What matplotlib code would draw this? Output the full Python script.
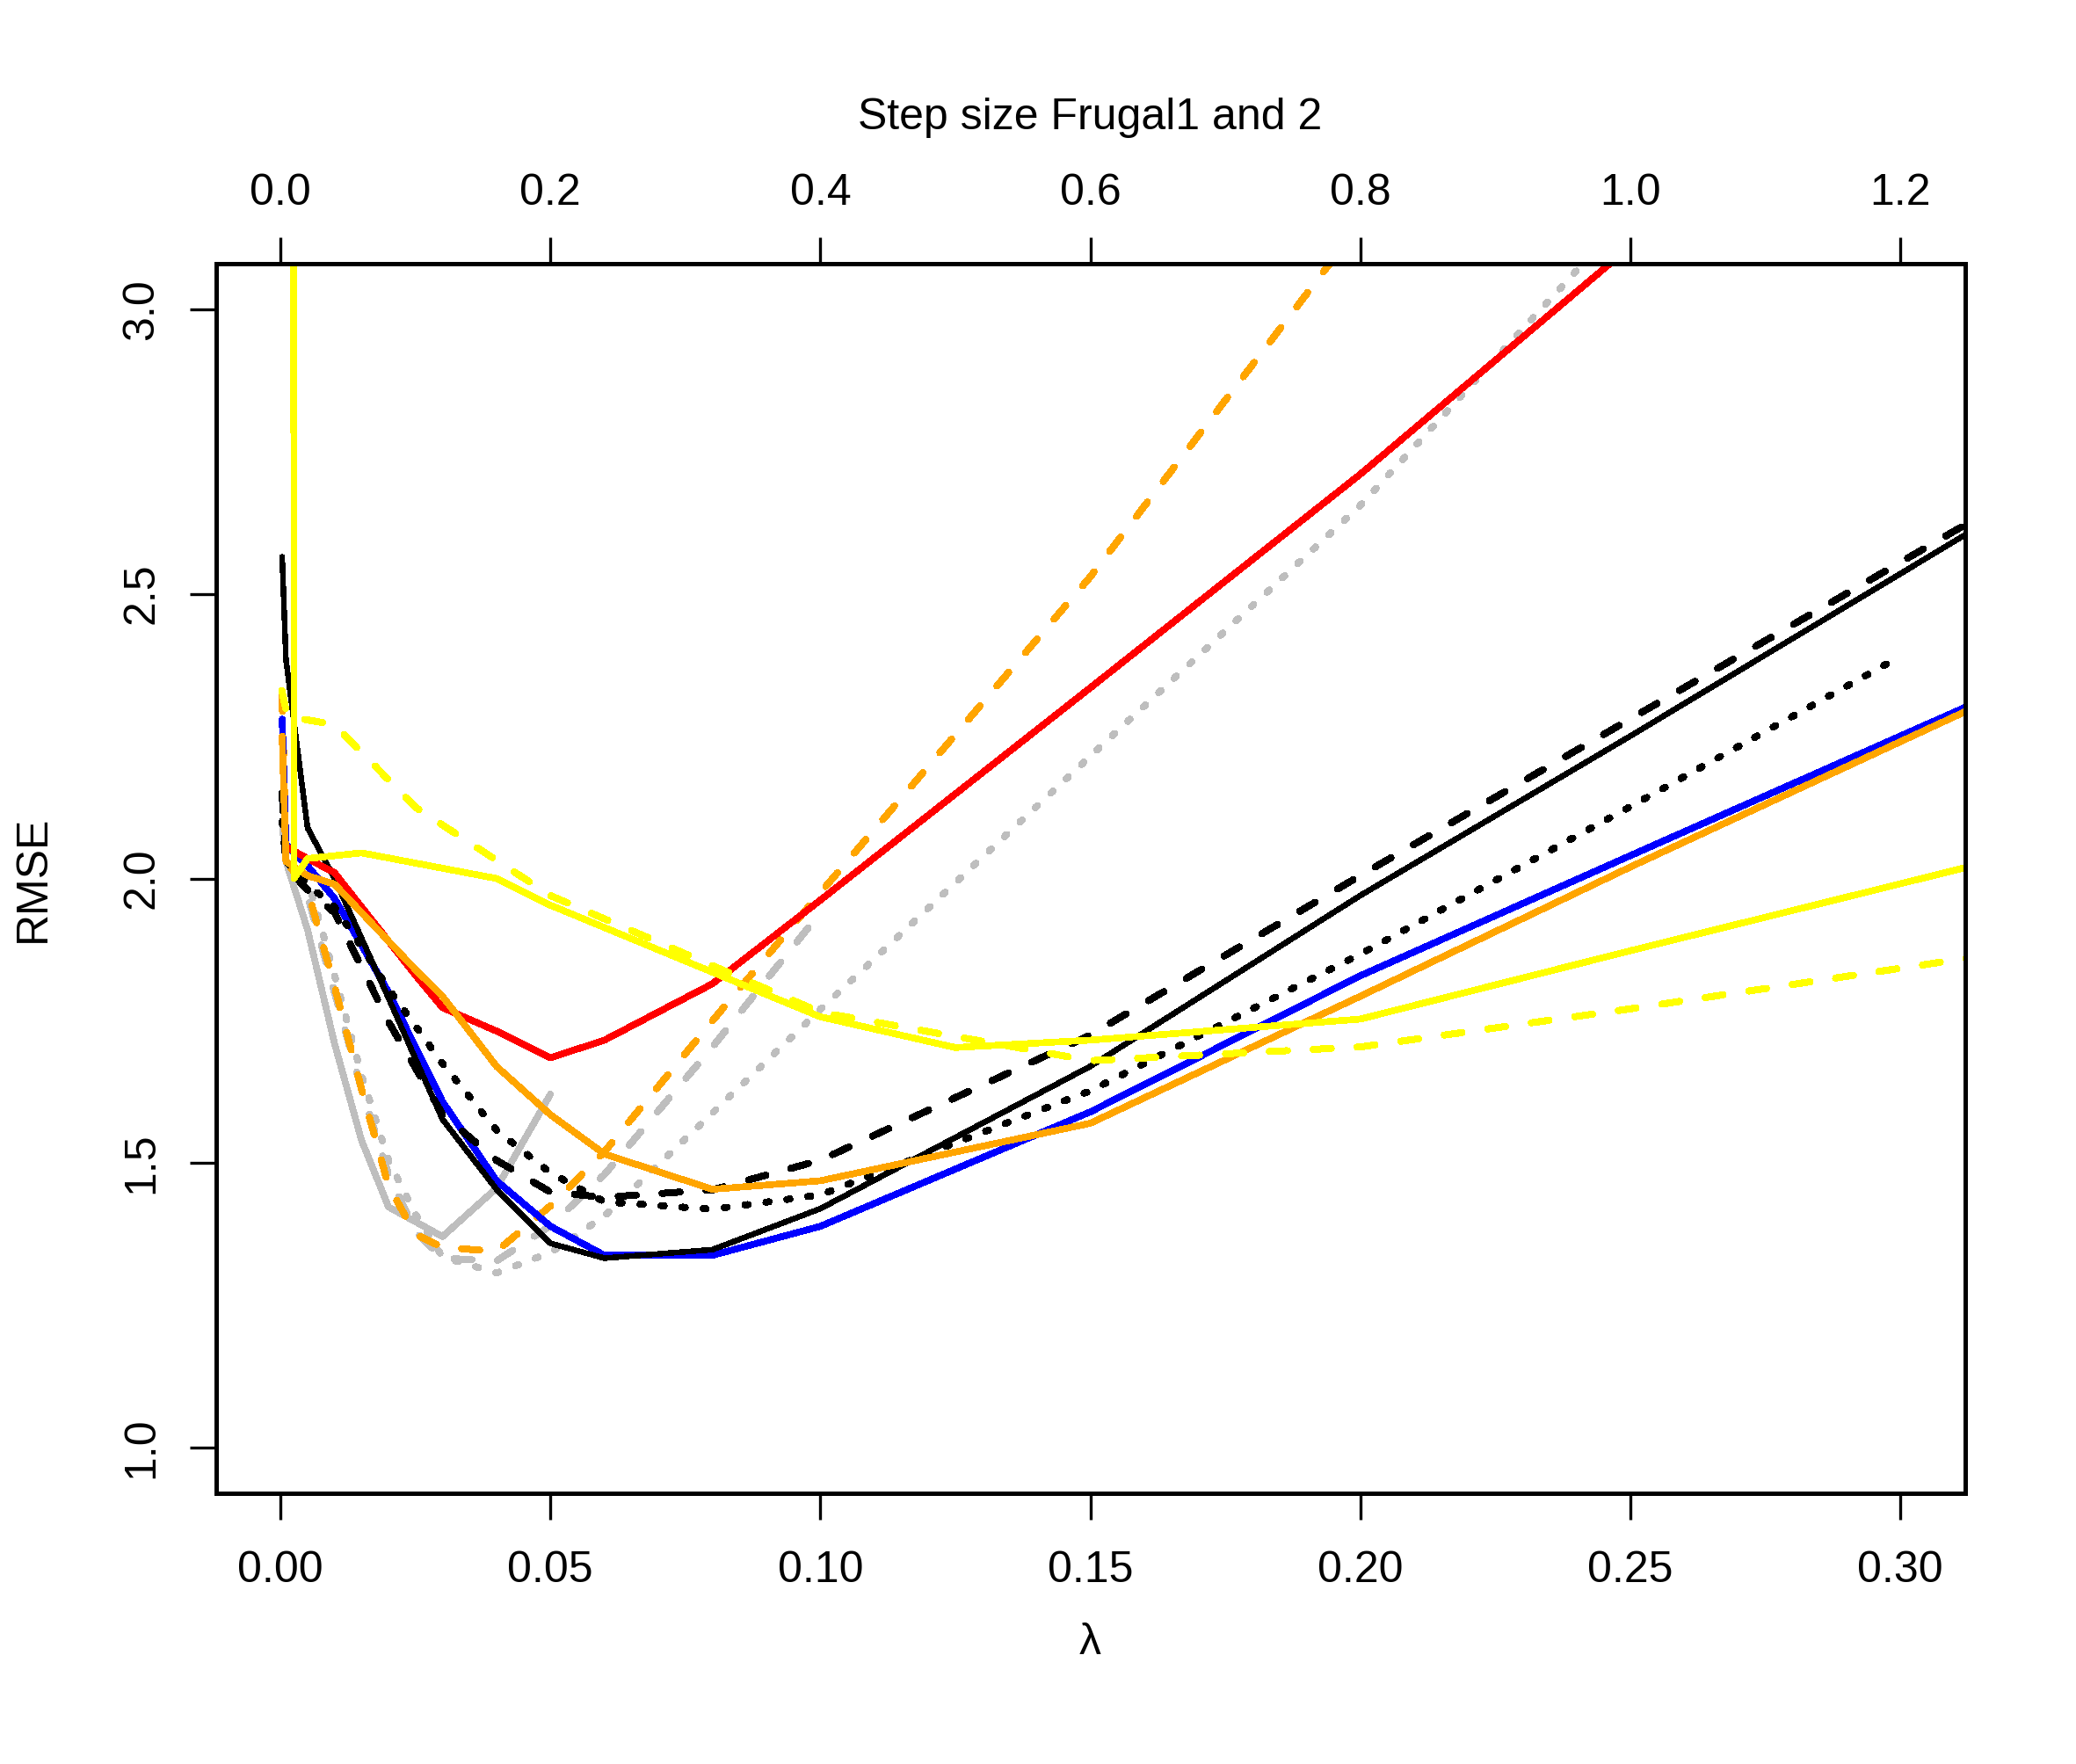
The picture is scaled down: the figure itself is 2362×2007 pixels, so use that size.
import numpy as np
import matplotlib
matplotlib.use("Agg")
import matplotlib.pyplot as plt

plt.rcParams['font.family'] = ['Liberation Sans', 'DejaVu Sans']
plt.rcParams['font.size'] = 12

nan = np.nan

# lambda grid (bottom axis)
lam = [0.0003, 0.001, 0.005, 0.01, 0.015, 0.02, 0.025, 0.03, 0.04, 0.05,
       0.06, 0.08, 0.10, 0.15, 0.20, 0.25, 0.30, 0.35]

grey_solid  = [2.10, 2.03, 1.91, 1.71, 1.54, 1.423, 1.397, 1.371, 1.456, 1.621,
               nan, nan, nan, nan, nan, nan, nan, nan]
grey_dashed = [2.10, 2.03, 1.97, 1.80, 1.63, 1.48, 1.38, 1.333, 1.328, 1.39,
               1.48, 1.704, 1.94, nan, nan, nan, nan, nan]
grey_dotted = [2.10, 2.03, 2.00, 1.83, 1.655, 1.505, 1.41, 1.335, 1.307, 1.343,
               1.407, 1.588, 1.77, 2.215, 2.655, 3.17, nan, nan]
orange_dashed = [2.325, 2.03, 1.98, 1.81, 1.63, 1.46, 1.375, 1.352, 1.345, 1.425,
                 1.52, 1.75, 1.975, 2.53, 3.15, 3.80, nan, nan]
blue_solid  = [2.28, 2.06, 2.022, 1.965, 1.883, 1.80, 1.704, 1.608, 1.469, 1.389,
               1.338, 1.338, 1.389, 1.59, 1.829, 2.04, 2.25, 2.46]
black_solid = [2.565, 2.385, 2.089, 2.00, 1.895, 1.79, 1.683, 1.577, 1.454, 1.359,
               1.333, 1.348, 1.42, 1.67, 1.97, 2.25, 2.535, 2.82]
black_dashed = [2.15, 2.02, 1.98, 1.94, 1.845, 1.748, 1.667, 1.586, 1.505, 1.449,
                1.44, 1.453, 1.505, 1.725, 2.005, 2.28, 2.555, 2.83]
black_dotted = [2.10, 2.03, 1.99, 1.95, 1.88, 1.806, 1.741, 1.675, 1.558, 1.483,
                1.432, 1.419, 1.444, 1.627, 1.867, 2.126, 2.39, nan]
red_solid   = [nan, 2.056, 2.035, 2.01, 1.95, 1.89, 1.83, 1.773, 1.732, 1.685,
               1.716, 1.815, 1.962, 2.335, 2.71, 3.11, 3.50, 3.90]
orange_solid = [2.25, 2.03, 2.005, 1.99, 1.94, 1.89, 1.84, 1.793, 1.67, 1.585,
                1.516, 1.454, 1.469, 1.57, 1.793, 2.02, 2.24, 2.46]

# Frugal step sizes (top axis)
step1 = [0.001, 0.01, 0.02, 0.06, 0.10, 0.16, 0.20, 0.40, 0.50, 0.60, 0.80, 1.00, 1.25, 1.50]
frugal1 = [50.0, 2.00, 2.035, 2.045, 2.027, 2.00, 1.953, 1.757, 1.703, 1.716, 1.753, 1.873, 2.02, 2.17]
step2 = [0.001, 0.005, 0.04, 0.10, 0.20, 0.40, 0.60, 0.80, 1.00, 1.25, 1.50]
frugal2 = [2.33, 2.285, 2.27, 2.125, 1.97, 1.765, 1.68, 1.704, 1.771, 1.86, 1.95]

x_ticks = [0.00, 0.05, 0.10, 0.15, 0.20, 0.25, 0.30]
top_ticks = [0.0, 0.2, 0.4, 0.6, 0.8, 1.0, 1.2]
y_ticks = [1.0, 1.5, 2.0, 2.5, 3.0]

W, H = 2362, 2007
fig = plt.figure(figsize=(W / 300, H / 300), dpi=300)
L, R, T, B = 245.5, 2235.5, 300, 1699
ax = fig.add_axes([L / W, 1 - B / H, (R - L) / W, (B - T) / H])

LW = 1.6
DASH = (3.0, 4.35)
DOT = (0.5, 3.1)

def style(line, dash):
    line.set_antialiased(False)
    line.set_solid_capstyle('round')
    line.set_dash_capstyle('round')
    line.set_solid_joinstyle('round')
    line.set_dash_joinstyle('round')
    if dash is not None:
        line.set_dashes(dash)

series = [
    (grey_solid, '#BEBEBE', None, LW),
    (grey_dashed, '#BEBEBE', DASH, LW),
    (grey_dotted, '#BEBEBE', DOT, LW),
    (orange_dashed, '#FFA500', DASH, LW),
    (blue_solid, '#0000FF', None, LW),
    (black_solid, '#000000', None, 1.3),
    (black_dashed, '#000000', DASH, LW),
    (black_dotted, '#000000', DOT, LW),
    (red_solid, '#FF0000', None, LW),
    (orange_solid, '#FFA500', None, LW),
]
for vals, col, dash, lw in series:
    line, = ax.plot(lam, vals, color=col, lw=lw)
    style(line, dash)

ax.set_xlim(-0.012, 0.312)
ax.set_ylim(0.92, 3.08)
ax.set_xticks(x_ticks)
ax.set_xticklabels([f"{v:.2f}" for v in x_ticks])
ax.set_yticks(y_ticks)
ax.set_yticklabels([f"{v:.1f}" for v in y_ticks])
for lab in ax.get_yticklabels():
    lab.set_rotation(90)
    lab.set_va('center')

ax2 = ax.twiny()
ax2.set_xlim(-0.048, 1.248)
ax2.set_xticks(top_ticks)
ax2.set_xticklabels([f"{v:.1f}" for v in top_ticks])
for st, vals, dash in [(step2, frugal2, DASH), (step1, frugal1, None)]:
    line, = ax2.plot(st, vals, color='#FFFF00', lw=LW)
    style(line, dash)

for a in (ax, ax2):
    for sp in a.spines.values():
        sp.set_linewidth(0.8)
        sp.set_color('black')
        sp.set_antialiased(False)
    a.tick_params(direction='out', length=7.2, width=0.8, labelsize=12, color='black')
ax.tick_params(axis='x', pad=8.5)
ax.tick_params(axis='y', pad=7.5)
ax2.tick_params(axis='x', pad=6.5)

fig.text(1240.5 / W, 1 - 1869 / H, "λ", ha='center', va='center', fontsize=12)
fig.text(37.7 / W, 1 - 999.5 / H, "RMSE", ha='center', va='center', rotation=90, fontsize=12)
fig.text(1240.5 / W, 1 - 134 / H, "Step size Frugal1 and 2", ha='center', va='center', fontsize=12)

fig.savefig("out.png", dpi=300, facecolor='white')
